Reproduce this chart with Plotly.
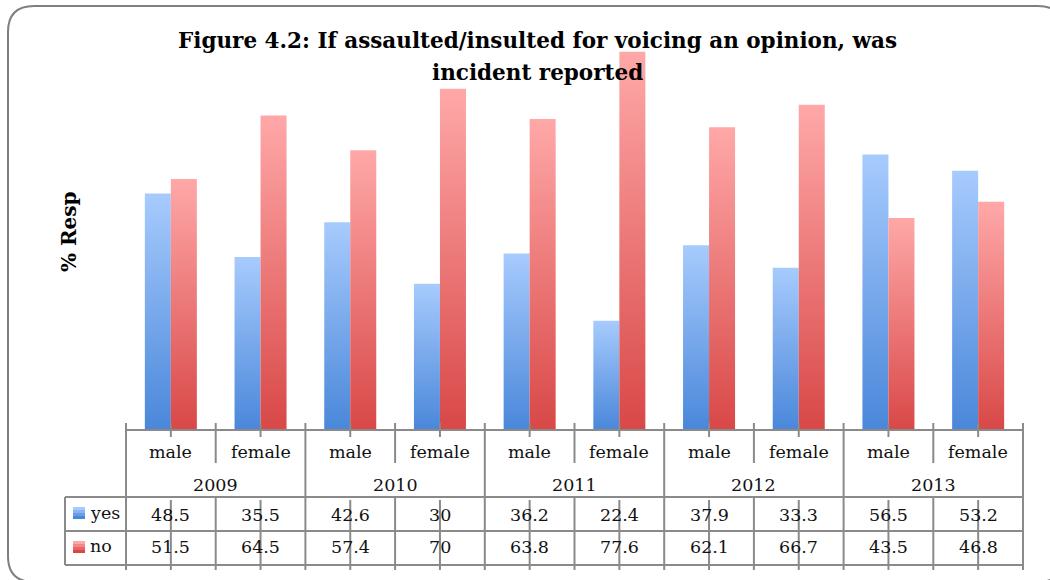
import plotly.graph_objects as go

# ---- data -------------------------------------------------------------
years = ["2009", "2010", "2011", "2012", "2013"]
sexes = ["male", "female"]
categories = [s for y in years for s in sexes]
yes_vals = [48.5, 35.5, 42.6, 30, 36.2, 22.4, 37.9, 33.3, 56.5, 53.2]
no_vals = [51.5, 64.5, 57.4, 70, 63.8, 77.6, 62.1, 66.7, 43.5, 46.8]
series_names = ["yes", "no"]

title_lines = ["Figure 4.2: If assaulted/insulted for voicing an opinion, was",
               "incident reported"]
y_title = "% Resp"

# ---- styling ----------------------------------------------------------
FONT = "DejaVu Serif"
GRID = "#8a8a8a"
BLUE = ("#4a87da", "#a7cbfd")   # bottom, top
RED = ("#d84847", "#ffa8a8")

W_FIG, H_FIG = 1050, 580
L, T, PW, PH = 126, 40, 897, 390   # plot area in pixels
n = len(categories)
bar_w = 0.29                        # bar width in category units


def fx(X):
    return (X - L) / PW


def fy(Y):
    return (T + PH - Y) / PH


fig = go.Figure()

# gradient-filled bars, one polygon per bar
for vals, (c0, c1), side in ((yes_vals, BLUE, -1), (no_vals, RED, 1)):
    for i, v in enumerate(vals):
        a, b = (i - bar_w, i) if side < 0 else (i, i + bar_w)
        fig.add_trace(go.Scatter(
            x=[a, a, b, b, a], y=[0, v, v, 0, 0],
            mode="lines", line=dict(width=0), fill="toself",
            fillgradient=dict(type="vertical", colorscale=[[0, c0], [1, c1]]),
            hoverinfo="skip", showlegend=False))

shapes = []


def hline(Y, X0, X1):
    shapes.append(dict(type="line", xref="paper", yref="paper",
                       x0=fx(X0), x1=fx(X1), y0=fy(Y), y1=fy(Y),
                       line=dict(color=GRID, width=2), layer="above"))


def vline_p(xp, Y0, Y1):
    shapes.append(dict(type="line", xref="paper", yref="paper",
                       x0=xp, x1=xp, y0=fy(Y0), y1=fy(Y1),
                       line=dict(color=GRID, width=2), layer="above"))


# data-table grid
hline(430, L, L + PW)
for Y in (497, 531, 565):
    hline(Y, 65, L + PW)
vline_p(fx(65), 497, 565)
for k in range(n + 1):
    xp = k / n
    if k % 2 == 0:
        vline_p(xp, 423, 570)
    else:
        vline_p(xp, 423, 463)
        vline_p(xp, 497, 570)
for i in range(n):
    xp = (i + 0.5) / n
    vline_p(xp, 423, 437)
    vline_p(xp, 500, 570)

# legend keys inside the table
for (c0, c1), Yc in ((BLUE, 513), (RED, 547)):
    steps = 4
    for s in range(steps):
        t = s / (steps - 1)
        r0, g0, b0 = (int(c1[j:j + 2], 16) for j in (1, 3, 5))
        r1, g1, b1 = (int(c0[j:j + 2], 16) for j in (1, 3, 5))
        col = "rgb(%d,%d,%d)" % (r0 + (r1 - r0) * t, g0 + (g1 - g0) * t, b0 + (b1 - b0) * t)
        y_top = Yc - 6 + s * 3
        shapes.append(dict(type="rect", xref="paper", yref="paper",
                           x0=fx(73), x1=fx(85), y0=fy(y_top + 3), y1=fy(y_top),
                           fillcolor=col, line=dict(width=0), layer="above"))

# outer rounded frame
x0, y0, x1, y1, r = 8, 6, 1064, 582, 26


def P(X, Y):
    return "%.5f,%.5f" % (fx(X), fy(Y))


frame = ("M " + P(x0 + r, y0) + " L " + P(x1 - r, y0) + " Q " + P(x1, y0) + " " + P(x1, y0 + r) +
         " L " + P(x1, y1 - r) + " Q " + P(x1, y1) + " " + P(x1 - r, y1) +
         " L " + P(x0 + r, y1) + " Q " + P(x0, y1) + " " + P(x0, y1 - r) +
         " L " + P(x0, y0 + r) + " Q " + P(x0, y0) + " " + P(x0 + r, y0) + " Z")
shapes.append(dict(type="path", xref="paper", yref="paper", path=frame,
                   line=dict(color="#7f7f7f", width=2)))

annotations = []
tfont = dict(family=FONT, size=17.5, color="#111111")


def note(x, Y, text, xref="x", **kw):
    d = dict(x=x, y=fy(Y), xref=xref, yref="paper", text=text, showarrow=False,
             xanchor="center", yanchor="middle", font=tfont)
    d.update(kw)
    annotations.append(d)


for i, c in enumerate(categories):
    note(i, 452, c)
    note(i, 515, "%g" % yes_vals[i])
    note(i, 547, "%g" % no_vals[i])
for k, yr in enumerate(years):
    note(2 * k + 0.5, 485, yr)
for name, Yc in zip(series_names, (513, 546)):
    note(fx(88), Yc, name, xref="paper", xanchor="left")

for line, Yc in zip(title_lines, (40, 72)):
    note(fx(537), Yc, "<b>%s</b>" % line, xref="paper",
         font=dict(family=FONT, size=21.5, color="#000000"))

note(fx(69), 232, "<b>%s</b>" % y_title, xref="paper", textangle=-90,
     font=dict(family=FONT, size=20, color="#000000"))

fig.update_layout(
    width=W_FIG, height=H_FIG,
    margin=dict(l=L, r=W_FIG - L - PW, t=T, b=H_FIG - T - PH, pad=0),
    paper_bgcolor="white", plot_bgcolor="white",
    xaxis=dict(range=[-0.5, n - 0.5], showgrid=False, zeroline=False,
               showticklabels=False, ticks="", showline=False, fixedrange=True),
    yaxis=dict(range=[0, 80], showgrid=False, zeroline=False,
               showticklabels=False, ticks="", showline=False, fixedrange=True),
    shapes=shapes, annotations=annotations, showlegend=False,
)

fig.write_html("out.html")
